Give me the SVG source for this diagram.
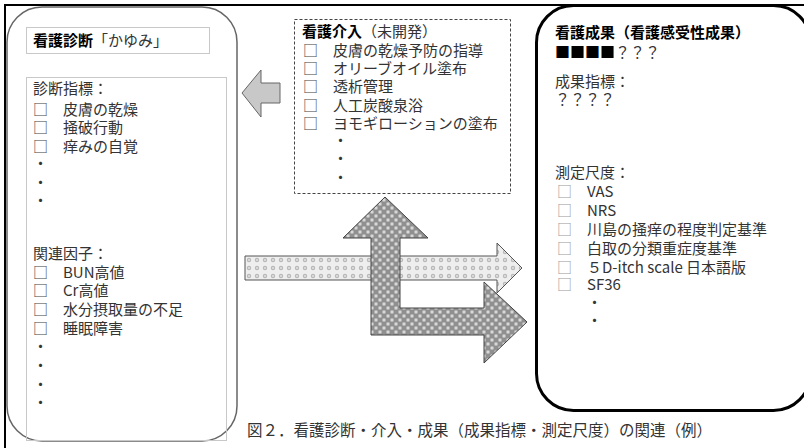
<svg xmlns="http://www.w3.org/2000/svg" width="804" height="448" viewBox="0 0 804 448">
<style>
text{font-family:"Noto Sans CJK JP","Noto Sans",sans-serif;font-size:15px;fill:#333}
.b{font-weight:bold;fill:#000}
.cb{fill:#444}
.cbl{fill:#999}
.inner{fill:none;stroke:#c8c8c8;stroke-width:1}
</style>
<defs>
<radialGradient id="blob">
<stop offset="0" stop-color="#f4f4f4"/>
<stop offset="1" stop-color="#8c8c8c"/>
</radialGradient>
<pattern id="check" patternUnits="userSpaceOnUse" width="8" height="8">
<rect width="8" height="8" fill="#909090"/>
<circle cx="0" cy="0" r="2.6" fill="url(#blob)"/>
<circle cx="8" cy="0" r="2.6" fill="url(#blob)"/>
<circle cx="0" cy="8" r="2.6" fill="url(#blob)"/>
<circle cx="8" cy="8" r="2.6" fill="url(#blob)"/>
<circle cx="4" cy="4" r="2.6" fill="url(#blob)"/>
</pattern>
<pattern id="dots" patternUnits="userSpaceOnUse" width="8" height="8" x="245" y="256">
<rect width="8" height="8" fill="#eeeeee"/>
<circle cx="4" cy="4" r="2.2" fill="#b8b8b8"/>
<circle cx="4" cy="4" r="0.9" fill="#e8e8e8"/>
</pattern>
</defs>
<rect width="804" height="448" fill="#fff"/>
<!-- outer frame -->
<path d="M5,448 V5 H804" fill="none" stroke="#000" stroke-width="2"/>

<g id="diagnosis">
<rect x="7" y="7" width="230" height="434" rx="35" ry="35" fill="none" stroke="#666" stroke-width="1.5"/>
<rect class="inner" x="26.5" y="27.5" width="183" height="26"/>
<rect class="inner" x="26.5" y="77.5" width="200" height="363"/>
<text x="33" y="46"><tspan class="b">看護診断</tspan>「かゆみ」</text>
<text x="33" y="94">診断指標：</text>
<text x="33" y="114.5"><tspan class="cb">□</tspan>　皮膚の乾燥</text>
<text x="33" y="133"><tspan class="cb">□</tspan>　掻破行動</text>
<text x="33" y="151.5"><tspan class="cb">□</tspan>　痒みの自覚</text>
<text x="33" y="169">・</text>
<text x="33" y="187.5">・</text>
<text x="33" y="206">・</text>
<text x="33" y="259">関連因子：</text>
<text x="33" y="277.5"><tspan class="cb">□</tspan>　BUN高値</text>
<text x="33" y="296"><tspan class="cb">□</tspan>　Cr高値</text>
<text x="33" y="314.5"><tspan class="cb">□</tspan>　水分摂取量の不足</text>
<text x="33" y="333.5"><tspan class="cb">□</tspan>　睡眠障害</text>
<text x="33" y="352">・</text>
<text x="33" y="371">・</text>
<text x="33" y="389.5">・</text>
<text x="33" y="408">・</text>
</g>

<g id="intervention">
<rect x="294.5" y="19.5" width="216" height="174" fill="none" stroke="#444" stroke-width="1" stroke-dasharray="3,2"/>
<text x="302" y="37"><tspan class="b">看護介入</tspan>（未開発）</text>
<text x="303" y="55.5"><tspan class="cb">□</tspan>　皮膚の乾燥予防の指導</text>
<text x="303" y="74"><tspan class="cb">□</tspan>　オリーブオイル塗布</text>
<text x="303" y="92"><tspan class="cb">□</tspan>　透析管理</text>
<text x="303" y="110.5"><tspan class="cb">□</tspan>　人工炭酸泉浴</text>
<text x="303" y="129"><tspan class="cb">□</tspan>　ヨモギローションの塗布</text>
<text x="333" y="146">・</text>
<text x="333" y="164">・</text>
<text x="333" y="182.5">・</text>
</g>

<g id="outcome">
<rect x="536.5" y="5.5" width="274" height="405" rx="37" ry="37" fill="none" stroke="#000" stroke-width="3"/>
<text x="555" y="37.5" class="b">看護成果（看護感受性成果）</text>
<text x="555" y="57.5"><tspan fill="#000">■■■■</tspan>？？？</text>
<text x="555" y="87">成果指標：</text>
<text x="555" y="105">？？？？</text>
<text x="555" y="178">測定尺度：</text>
<text x="557" y="197"><tspan class="cbl">□</tspan>　VAS</text>
<text x="557" y="216"><tspan class="cbl">□</tspan>　NRS</text>
<text x="557" y="235"><tspan class="cbl">□</tspan>　川島の掻痒の程度判定基準</text>
<text x="557" y="253.5"><tspan class="cbl">□</tspan>　白取の分類重症度基準</text>
<text x="557" y="272.5"><tspan class="cbl">□</tspan>　５D-itch scale 日本語版</text>
<text x="557" y="290"><tspan class="cbl">□</tspan>　SF36</text>
<text x="587" y="308">・</text>
<text x="587" y="326">・</text>
</g>

<g id="connectors">
<polygon points="242,93 261,70 261,83 280,83 280,103 261,103 261,117" fill="#c8c8c8" stroke="#666" stroke-width="1"/>
<polygon points="245,256 497,256 497,243 522,268 497,293 497,280 245,280" fill="url(#dots)" stroke="#555" stroke-width="1"/>
<polygon points="385,197 428,238 400,238 400,308 484,308 484,282 527,322 484,363 484,335 371,335 371,238 343,238" fill="url(#check)" stroke="#444" stroke-width="1"/>
</g>

<text x="247" y="436" style="font-size:15.5px;fill:#333">図２．看護診断・介入・成果（成果指標・測定尺度）の関連（例）</text>
</svg>
